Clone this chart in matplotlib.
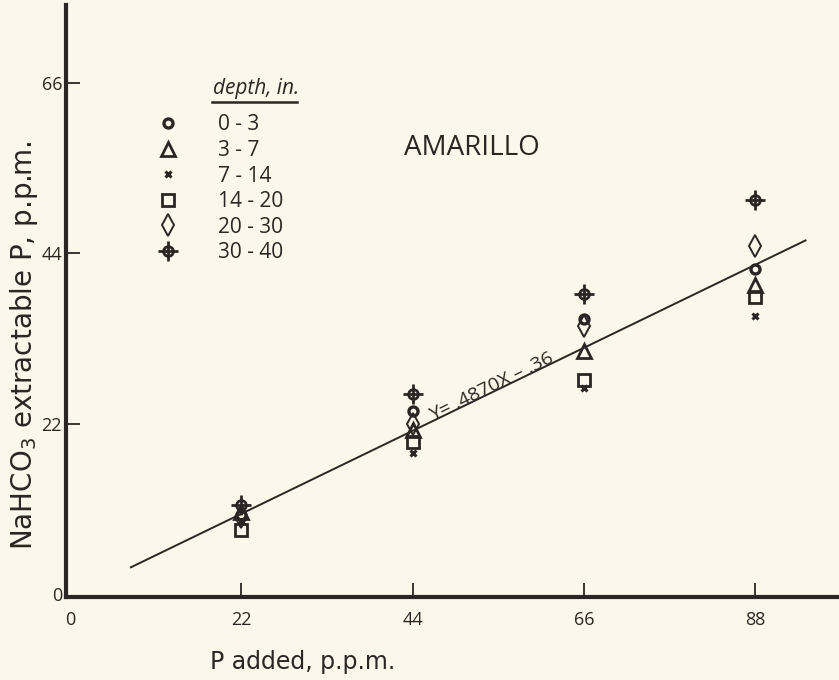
import matplotlib
matplotlib.use("Agg")
import matplotlib.pyplot as plt
import numpy as np
from matplotlib.lines import Line2D
from matplotlib.legend_handler import HandlerTuple

# P added (ppm) and NaHCO3 extractable P (ppm) for each depth
p_added = [22, 44, 66, 88]
depths = ["0 - 3", "3 - 7", "7 - 14", "14 - 20", "20 - 30", "30 - 40"]
extract_0_3 = [10.2, 23.6, 35.5, 42.0]
extract_3_7 = [10.6, 21.2, 31.4, 39.9]
extract_7_14 = [9.4, 18.2, 26.6, 35.9]
extract_14_20 = [8.3, 19.6, 27.6, 38.3]
extract_20_30 = [10.0, 21.9, 34.6, 44.9]
extract_30_40 = [11.5, 25.8, 38.8, 50.9]

slope, intercept = 0.4870, -0.36
fit_x = [7.8, 94.5]

x_ticks = [0, 22, 44, 66, 88]
y_ticks = [0, 22, 44, 66]

bg = "#fcf7ea"
ink = "#2b2623"
plt.rcParams["font.family"] = ["Open Sans", "DejaVu Sans"]

fig = plt.figure(figsize=(8.39, 6.8), dpi=100, facecolor=bg)
ax = fig.add_axes([0.079, 0.122, 0.921, 0.871], facecolor=bg)

fx = np.array(fit_x)
ax.plot(fx, slope * fx + intercept, color=ink, lw=1.4, zorder=2)

styles = [
    dict(marker="o", ms=6.5, mew=2.4),
    dict(marker="^", ms=10, mew=2.0),
    dict(marker="x", ms=5, mew=2.2),
    dict(marker="s", ms=8.5, mew=2.0),
    dict(marker="d", ms=11, mew=1.4),
    dict(marker="o", ms=7, mew=2.0),
]
series = [extract_0_3, extract_3_7, extract_7_14, extract_14_20,
          extract_20_30, extract_30_40]

handles = []
for vals, st in zip(series, styles):
    ax.plot(p_added, vals, ls="none", color=ink, mfc="none", mec=ink,
            zorder=3, **st)
    h = Line2D([], [], ls="none", color=ink, mfc="none", mec=ink, **st)
    handles.append(h)

# crosshair spokes for the 30-40 in. series
cross = dict(ls="none", marker="+", ms=15, mew=2.0, color=ink)
ax.plot(p_added, extract_30_40, zorder=3, **cross)
handles[-1] = (handles[-1], Line2D([], [], **cross))

leg = ax.legend(handles, depths, loc="upper left", bbox_to_anchor=(0.107, 0.829),
                frameon=False, fontsize=15, handletextpad=1.9,
                labelspacing=0.22, handlelength=1.0, borderaxespad=0,
                handler_map={tuple: HandlerTuple(ndivide=1)})
for t in leg.get_texts():
    t.set_color(ink)

ax.text(0.19, 0.841, "depth, in.", transform=ax.transAxes, fontsize=15,
        style="italic", color=ink, ha="left", va="bottom")
ax.plot([0.189, 0.299], [0.836, 0.836], transform=ax.transAxes, color=ink,
        lw=1.8, clip_on=False)

ax.text(51.6, 57.6, "AMARILLO", fontsize=20, color=ink, ha="center", va="center")
ax.text(54.2, 26.8, "Y= .4870X – .36", fontsize=14, color=ink, rotation=26,
        ha="center", va="center", rotation_mode="anchor")

ax.set_xlim(-0.5, 98.8)
ax.set_ylim(-0.4, 76.1)
ax.set_xticks(x_ticks)
ax.set_yticks(y_ticks)
ax.tick_params(direction="in", length=10, width=1.3, colors=ink,
               labelsize=13, pad=3)
ax.tick_params(axis="x", pad=10)
ax.xaxis.get_major_ticks()[0].tick1line.set_visible(False)
ax.yaxis.get_major_ticks()[0].tick1line.set_visible(False)
for side in ["top", "right"]:
    ax.spines[side].set_visible(False)
for side in ["left", "bottom"]:
    ax.spines[side].set_linewidth(3)
    ax.spines[side].set_color(ink)

fig.text(24 / 839, 1 - 345 / 680, "NaHCO$_3$ extractable P, p.p.m.",
         fontsize=20, color=ink, rotation=90, ha="center", va="center",
         family="DejaVu Sans")
fig.text(210 / 839, 1 - 669 / 680, "P added, p.p.m.", fontsize=17, color=ink,
         ha="left", va="baseline", family="DejaVu Sans")

fig.savefig("out.png", dpi=100, facecolor=bg)
